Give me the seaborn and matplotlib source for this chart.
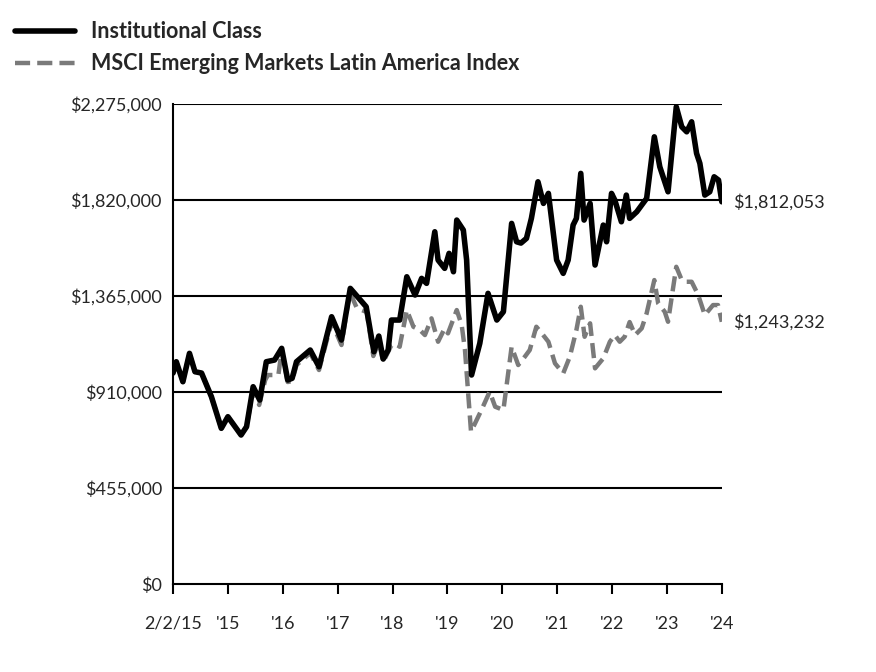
import pandas as pd
import numpy as np
import seaborn as sns
import matplotlib.pyplot as plt
from matplotlib.ticker import FuncFormatter

# years since inception (2/2/15 = 0, '24 = 10)
fund_t = [0.00, 0.06, 0.18, 0.30, 0.40, 0.52, 0.70, 0.88, 1.00, 1.24, 1.34, 1.46, 1.58, 1.70,
          1.85, 1.98, 2.09, 2.17, 2.25, 2.50, 2.66, 2.89, 3.07, 3.23, 3.52, 3.66, 3.75, 3.83,
          3.92, 3.98, 4.13, 4.26, 4.41, 4.53, 4.62, 4.77, 4.83, 4.95, 5.03, 5.11, 5.17, 5.29,
          5.35, 5.44, 5.59, 5.74, 5.90, 6.02, 6.17, 6.26, 6.34, 6.44, 6.53, 6.65, 6.75, 6.84,
          6.99, 7.11, 7.20, 7.29, 7.35, 7.43, 7.49, 7.60, 7.69, 7.84, 7.90, 7.99, 8.05, 8.17,
          8.26, 8.32, 8.45, 8.54, 8.63, 8.77, 8.87, 9.02, 9.17, 9.27, 9.36, 9.45, 9.54, 9.60,
          9.69, 9.78, 9.86, 9.94, 10.00]
fund_val = [1000000, 1053700, 958900, 1093500, 1006300, 1000100, 887800, 738000, 793000, 706300,
            745600, 935200, 872200, 1053700, 1061800, 1117200, 967000, 975000, 1053700, 1109200,
            1030000, 1267000, 1156600, 1401600, 1314400, 1101100, 1175500, 1066500, 1109200,
            1251400, 1251400, 1456600, 1369900, 1449000, 1425300, 1670000, 1535800, 1496400,
            1567500, 1480300, 1725400, 1678000, 1535800, 990700, 1140900, 1377900, 1251400,
            1290700, 1709700, 1622500, 1616300, 1638600, 1733400, 1906900, 1804500, 1851900,
            1535800, 1472700, 1535800, 1701700, 1733400, 1946700, 1725400, 1804500, 1512100,
            1701700, 1622500, 1851900, 1820200, 1717300, 1843900, 1733400, 1764700, 1796500,
            1828200, 2120200, 1978000, 1859500, 2262400, 2167600, 2143900, 2191300, 2041500,
            1994100, 1843900, 1859500, 1930600, 1915000, 1812053]

index_t = [0.00, 0.06, 0.18, 0.30, 0.40, 0.52, 0.70, 0.88, 1.00, 1.24, 1.34, 1.46, 1.57, 1.68,
           1.73, 1.92, 1.98, 2.09, 2.17, 2.25, 2.50, 2.66, 2.89, 3.07, 3.22, 3.35, 3.53, 3.65,
           3.75, 3.83, 3.98, 4.04, 4.13, 4.26, 4.38, 4.50, 4.59, 4.71, 4.83, 4.95, 5.01, 5.17,
           5.26, 5.32, 5.43, 5.62, 5.77, 5.87, 6.02, 6.17, 6.29, 6.41, 6.50, 6.62, 6.72, 6.84,
           6.96, 7.11, 7.23, 7.35, 7.43, 7.50, 7.60, 7.69, 7.84, 7.96, 8.05, 8.14, 8.23, 8.32,
           8.42, 8.54, 8.63, 8.77, 8.84, 8.96, 9.02, 9.17, 9.27, 9.36, 9.45, 9.57, 9.69, 9.84,
           9.93, 10.00]
index_val = [1000000, 1053700, 958900, 1093500, 1006300, 1000100, 887800, 738000, 793000, 706300,
             745600, 919600, 848500, 967000, 990700, 990700, 1109200, 957500, 962200, 1038100,
             1094900, 1014400, 1241900, 1132900, 1384100, 1308200, 1289300, 1080700, 1147100,
             1052300, 1132900, 1140900, 1124800, 1298800, 1219600, 1204000, 1180300, 1259400,
             1148500, 1212000, 1188300, 1298800, 1227700, 1109200, 721900, 824800, 911500,
             840400, 824800, 1124800, 1038100, 1077400, 1109200, 1219600, 1188300, 1148500,
             1046100, 998700, 1077400, 1204000, 1314400, 1172200, 1235700, 1022400, 1069800,
             1148500, 1180300, 1148500, 1172200, 1241900, 1180300, 1212000, 1283100, 1440900,
             1330500, 1290700, 1243300, 1504000, 1440900, 1432900, 1432900, 1369900, 1275100,
             1322400, 1322400, 1243232]

tick_labels = ["2/2/15", "'15", "'16", "'17", "'18", "'19", "'20", "'21", "'22", "'23", "'24"]
y_ticks = [0, 455000, 910000, 1365000, 1820000, 2275000]

fund_name = "Institutional Class"
index_name = "MSCI Emerging Markets Latin America Index"

sns.set_theme(style="white")
plt.rcParams['font.family'] = ['Lato', 'DejaVu Sans']

fig = plt.figure(figsize=(8.76, 6.72), dpi=100)
ax = fig.add_axes([0.1975, 0.131, 0.6265, 0.714])

df_fund = pd.DataFrame({"t": fund_t, "value": fund_val})
df_index = pd.DataFrame({"t": index_t, "value": index_val})

sns.lineplot(data=df_index, x="t", y="value", ax=ax, color="#7a7a7a", linewidth=3.2,
             label=index_name)
ax.lines[-1].set_dashes([3.4, 1.6])
sns.lineplot(data=df_fund, x="t", y="value", ax=ax, color="black", linewidth=4.0,
             label=fund_name)

ax.set_xlim(0, 10)
ax.set_ylim(0, 2275000)
ax.set_yticks(y_ticks)
ax.yaxis.set_major_formatter(FuncFormatter(lambda v, p: f"${v:,.0f}"))
ax.set_xticks(range(len(tick_labels)))
ax.set_xticklabels(tick_labels)
ax.set_xlabel("")
ax.set_ylabel("")
for v in y_ticks[1:]:
    ax.axhline(v, color="black", linewidth=1.5, zorder=1)

for s in ["top", "right"]:
    ax.spines[s].set_visible(False)
for s in ["left", "bottom"]:
    ax.spines[s].set_color("black")
    ax.spines[s].set_linewidth(1.5)
ax.tick_params(axis="x", direction="out", length=7, width=1.5, color="black",
               pad=16, labelsize=13, bottom=True)
ax.tick_params(axis="y", length=0, pad=8, labelsize=13)

ax.text(1.02, fund_val[-1], f"${fund_val[-1]:,.0f}", transform=ax.get_yaxis_transform(),
        va="center", ha="left", fontsize=13)
ax.text(1.02, index_val[-1], f"${index_val[-1]:,.0f}", transform=ax.get_yaxis_transform(),
        va="center", ha="left", fontsize=13)

handles, labels = ax.get_legend_handles_labels()
ax.get_legend().remove()
leg = fig.legend(handles[::-1], labels[::-1], loc="upper left", bbox_to_anchor=(-0.005, 0.997),
                 frameon=False, handlelength=2.8, handletextpad=0.75, labelspacing=0.5,
                 borderpad=0.4, prop={"weight": "bold", "size": 15.5})

fig.savefig("out.png", dpi=100)
